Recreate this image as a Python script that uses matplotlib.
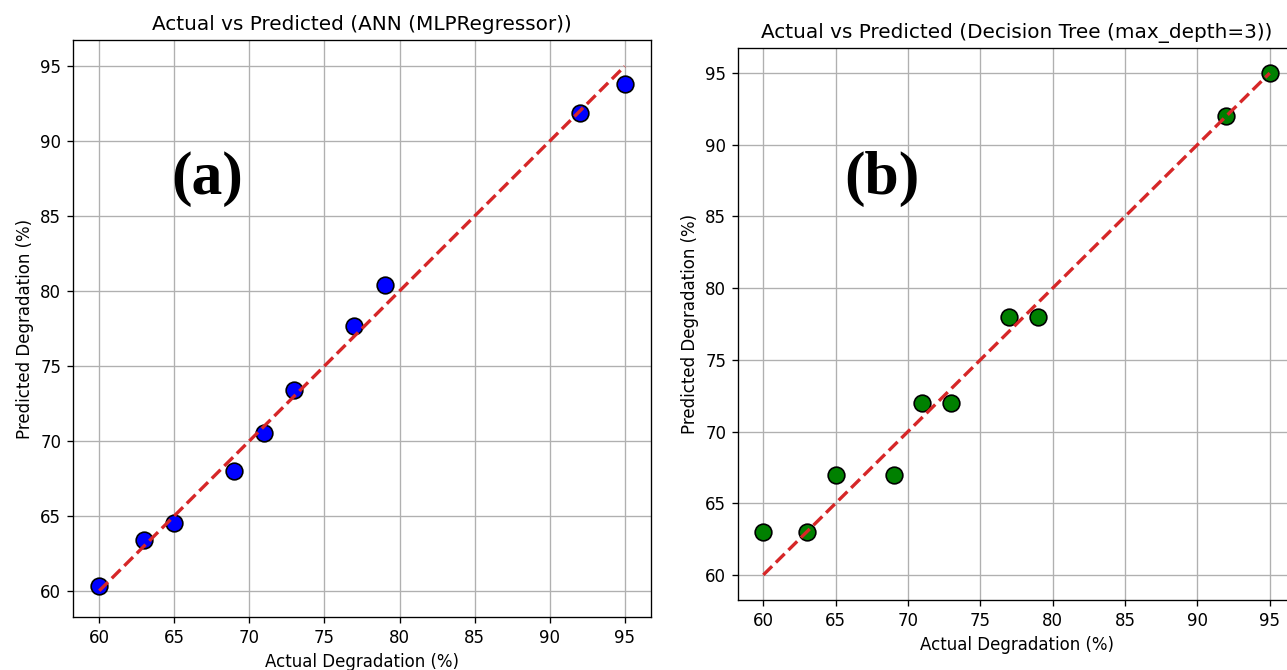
import matplotlib.pyplot as plt

# Actual vs predicted degradation for the two models
actual = [60, 63, 65, 69, 71, 73, 77, 79, 92, 95]
pred_ann = [60.3, 63.4, 64.5, 68.0, 70.5, 73.4, 77.7, 80.4, 91.9, 93.8]
pred_tree = [63, 63, 67, 67, 72, 72, 78, 78, 92, 95]

ticks = [60, 65, 70, 75, 80, 85, 90, 95]


def panel(ax, y, color, title, tag, tag_xy):
    ax.scatter(actual, y, s=100, c=color, edgecolors="k", linewidths=1, zorder=3)
    lo, hi = min(actual), max(actual)
    ax.plot([lo, hi], [lo, hi], "--", color="#d62728", lw=2, zorder=4)
    ax.set_xticks(ticks)
    ax.set_yticks(ticks)
    ax.grid(True)
    ax.set_title(title, fontsize=12)
    ax.set_xlabel("Actual Degradation (%)")
    ax.set_ylabel("Predicted Degradation (%)")
    ax.text(*tag_xy, tag, ha="center", va="center", fontsize=37,
            fontweight="bold", family="Liberation Serif", zorder=5)


DPI = 120
fig = plt.figure(figsize=(1287 / DPI, 670 / DPI), dpi=DPI)
ax1 = fig.add_axes([73 / 1287, 53 / 670, 578 / 1287, 577 / 670])
ax2 = fig.add_axes([738 / 1287, 70 / 670, 557 / 1287, 552 / 670])

panel(ax1, pred_ann, "blue", "Actual vs Predicted (ANN (MLPRegressor))", "(a)", (67.2, 87.5))
panel(ax2, pred_tree, "green", "Actual vs Predicted (Decision Tree (max_depth=3))", "(b)", (68.2, 87.6))

fig.savefig("out.png", dpi=DPI)
